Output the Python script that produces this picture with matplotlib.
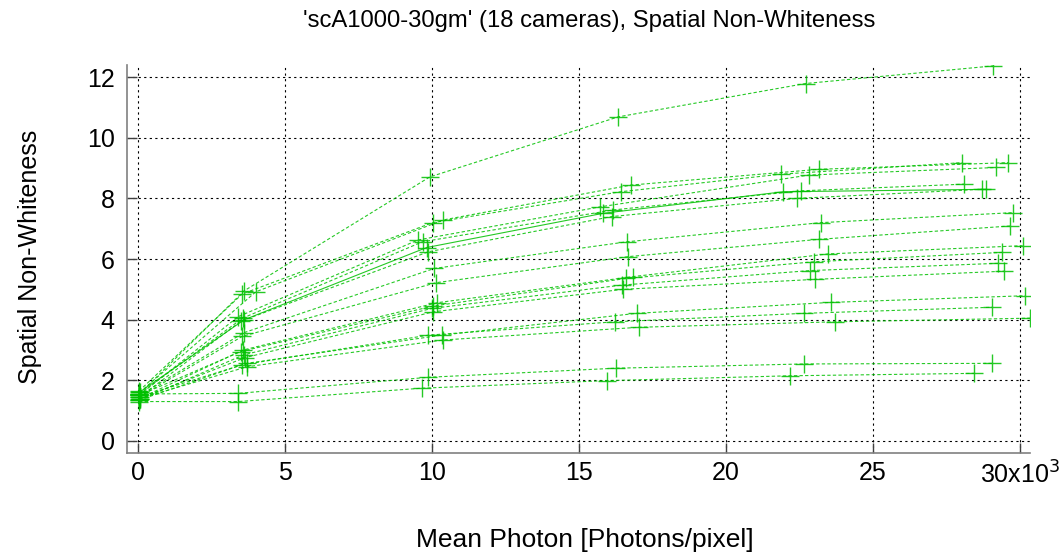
import matplotlib
matplotlib.use("Agg")
import matplotlib.pyplot as plt
from matplotlib.ticker import FixedLocator, FixedFormatter

plt.rcParams['font.family'] = ['Liberation Sans', 'DejaVu Sans']

title = "'scA1000-30gm' (18 cameras), Spatial Non-Whiteness"
xlabel = "Mean Photon [Photons/pixel]"
ylabel = "Spatial Non-Whiteness"

# mean photon per camera, in thousands of photons/pixel
photons_k = [
    [0.05, 3.61, 9.93, 16.34, 22.71, 29.09],
    [0.06, 4.01, 10.39, 16.77, 23.16, 29.60],
    [0.04, 3.55, 10.02, 16.42, 21.87, 28.04],
    [0.03, 3.41, 9.53, 15.71, 22.82, 29.20],
    [0.05, 3.56, 9.68, 16.17, 22.55, 28.10],
    [0.04, 3.62, 9.82, 15.83, 21.95, 28.84],
    [0.06, 3.50, 9.88, 16.11, 22.40, 28.70],
    [0.05, 3.60, 10.08, 16.64, 23.22, 29.75],
    [0.04, 3.55, 10.14, 16.68, 23.16, 29.66],
    [0.05, 3.58, 10.18, 16.83, 23.48, 30.09],
    [0.03, 3.50, 10.04, 16.60, 23.00, 29.40],
    [0.05, 3.60, 9.99, 16.45, 22.86, 29.27],
    [0.06, 3.65, 10.05, 16.49, 23.03, 29.47],
    [0.04, 3.70, 10.33, 16.96, 23.56, 30.17],
    [0.05, 3.53, 9.88, 16.22, 22.66, 29.06],
    [0.06, 3.72, 10.38, 17.05, 23.71, 30.34],
    [0.05, 3.41, 9.88, 16.26, 22.66, 29.06],
    [0.04, 3.41, 9.65, 15.94, 22.18, 28.45],
]

non_whiteness = [
    [1.55, 4.95, 8.71, 10.69, 11.79, 12.37],
    [1.60, 4.92, 7.29, 8.44, 8.96, 9.18],
    [1.65, 4.85, 7.20, 8.22, 8.80, 9.18],
    [1.50, 4.10, 6.63, 7.72, 8.77, 9.02],
    [1.55, 4.05, 6.57, 7.62, 8.25, 8.47],
    [1.60, 4.00, 6.38, 7.51, 8.22, 8.30],
    [1.45, 3.95, 6.24, 7.40, 8.00, 8.30],
    [1.50, 3.57, 5.69, 6.57, 7.20, 7.53],
    [1.45, 3.45, 5.22, 6.08, 6.65, 7.09],
    [1.40, 3.00, 4.56, 5.42, 6.17, 6.44],
    [1.50, 2.95, 4.45, 5.36, 5.91, 6.22],
    [1.35, 2.84, 4.37, 5.14, 5.62, 5.86],
    [1.40, 2.75, 4.26, 5.00, 5.33, 5.60],
    [1.45, 2.56, 3.49, 4.21, 4.57, 4.79],
    [1.35, 2.51, 3.49, 3.93, 4.21, 4.41],
    [1.40, 2.45, 3.33, 3.75, 3.93, 4.05],
    [1.55, 1.57, 2.10, 2.40, 2.54, 2.56],
    [1.30, 1.30, 1.74, 1.99, 2.15, 2.23],
]

solid_series = [5]

xtick_values = [0, 5, 10, 15, 20, 25, 30]
xtick_labels = ["0", "5", "10", "15", "20", "25", "30x10$^3$"]
ytick_values = [0, 2, 4, 6, 8, 10, 12]

green = "#00c000"

fig = plt.figure(figsize=(10.64, 5.58), dpi=100)
ax = fig.add_axes([0.1194, 0.188, 0.8486, 0.6955])

for i, (xs, ys) in enumerate(zip(photons_k, non_whiteness)):
    ls = '-' if i in solid_series else (0, (3, 2))
    ax.plot(xs, ys, linestyle=ls, color=green, linewidth=0.8, alpha=0.85,
            marker='+', markersize=13, markeredgewidth=1.0,
            markeredgecolor=green)

ax.set_xlim(-0.37, 30.34)
ax.set_ylim(-0.4, 12.4)
ax.xaxis.set_major_locator(FixedLocator(xtick_values))
ax.xaxis.set_major_formatter(FixedFormatter(xtick_labels))
ax.yaxis.set_major_locator(FixedLocator(ytick_values))

ax.grid(True, color='black', linestyle=(0, (2, 3)), linewidth=0.8)
ax.set_axisbelow(True)
for side in ['top', 'right']:
    ax.spines[side].set_visible(False)
for side in ['left', 'bottom']:
    ax.spines[side].set_color('#808080')
    ax.spines[side].set_linewidth(1.2)

ax.tick_params(axis='both', direction='in', length=7, width=1, color='#404040',
               labelsize=18)
ax.tick_params(axis='y', pad=9)
ax.tick_params(axis='x', pad=6)

fig.text(0.554, 0.962, title, ha='center', va='center', fontsize=17.2)
fig.text(0.55, 0.032, xlabel, ha='center', va='center', fontsize=19)
fig.text(0.028, 0.54, ylabel, ha='center', va='center', rotation=90, fontsize=18)

fig.savefig("out.png", dpi=100)
